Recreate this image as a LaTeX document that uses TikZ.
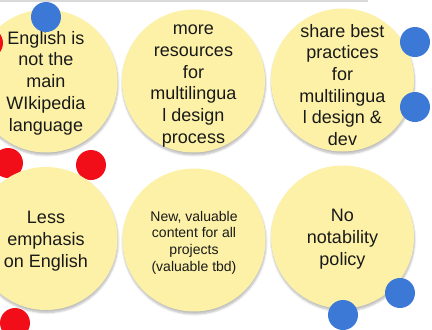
\documentclass[tikz,border=0pt]{standalone}
\usepackage{fontspec}
\setmainfont{Liberation Sans}
\usetikzlibrary{shadows.blur}

\definecolor{stickyyellow}{RGB}{252,241,166}
\definecolor{voteblue}{RGB}{60,120,214}
\definecolor{votered}{RGB}{242,14,24}

\tikzset{
	idea/.style={circle, fill=stickyyellow, minimum size=143pt, inner sep=0pt,
		blur shadow={shadow xshift=0.5pt, shadow yshift=-2.5pt, shadow blur steps=6, shadow opacity=28}},
	ideatext/.style={align=center, inner sep=0pt, text=black!90, font=\fontsize{18}{21.7}\selectfont},
	smallideatext/.style={ideatext, font=\fontsize{14}{16.7}\selectfont},
	vote/.style={circle, minimum size=30pt, inner sep=0pt},
	bluevote/.style={vote, fill=voteblue},
	redvote/.style={vote, fill=votered}
}

\begin{document}
\begin{tikzpicture}[x=1pt, y=-1pt]
	\useasboundingbox (0,0) rectangle (432,330);
	\fill[black!15] (0,0) rectangle (368,2);
	% votes hidden behind the circles
	\node[redvote] (red2) at (8,163) {};
	\node[redvote] (red3) at (91,165) {};
	% ideas, top row
	\node[idea] (english) at (46,81) {};
	\node[idea] (resources) at (193.5,81) {};
	\node[idea] (practices) at (342.5,80) {};
	% ideas, bottom row
	\node[idea] (emphasis) at (46,238.5) {};
	\node[idea] (content) at (194,240) {};
	\node[idea] (notability) at (342.5,237) {};
	% texts on the ideas
	\node[ideatext] (english-text) at ([yshift=-2pt]english) {English is\\not the\\main\\WIkipedia\\language};
	\node[ideatext] (resources-text) at ([yshift=-5pt]resources) {more\\resources\\for\\multilingua\\l design\\process};
	\node[ideatext] (practices-text) at ([yshift=-5pt]practices) {share best\\practices\\for\\multilingua\\l design \&\\dev};
	\node[ideatext] (emphasis-text) at ([yshift=-2.5pt]emphasis) {Less\\emphasis\\on English};
	\node[smallideatext] (content-text) at ([yshift=-2.5pt]content) {New, valuable\\content for all\\projects\\(valuable tbd)};
	\node[ideatext] (notability-text) at ([yshift=-2pt]notability) {No\\notability\\policy};
	% votes
	\node[redvote] (red1) at (-12,43) {};
	\node[redvote] (red4) at (15,323) {};
	\node[bluevote] (blue1) at (46,17) {};
	\node[bluevote] (blue2) at (415,42) {};
	\node[bluevote] (blue3) at (415,107) {};
	\node[bluevote] (blue4) at (400,293) {};
	\node[bluevote] (blue5) at (343,315) {};
\end{tikzpicture}
\end{document}
